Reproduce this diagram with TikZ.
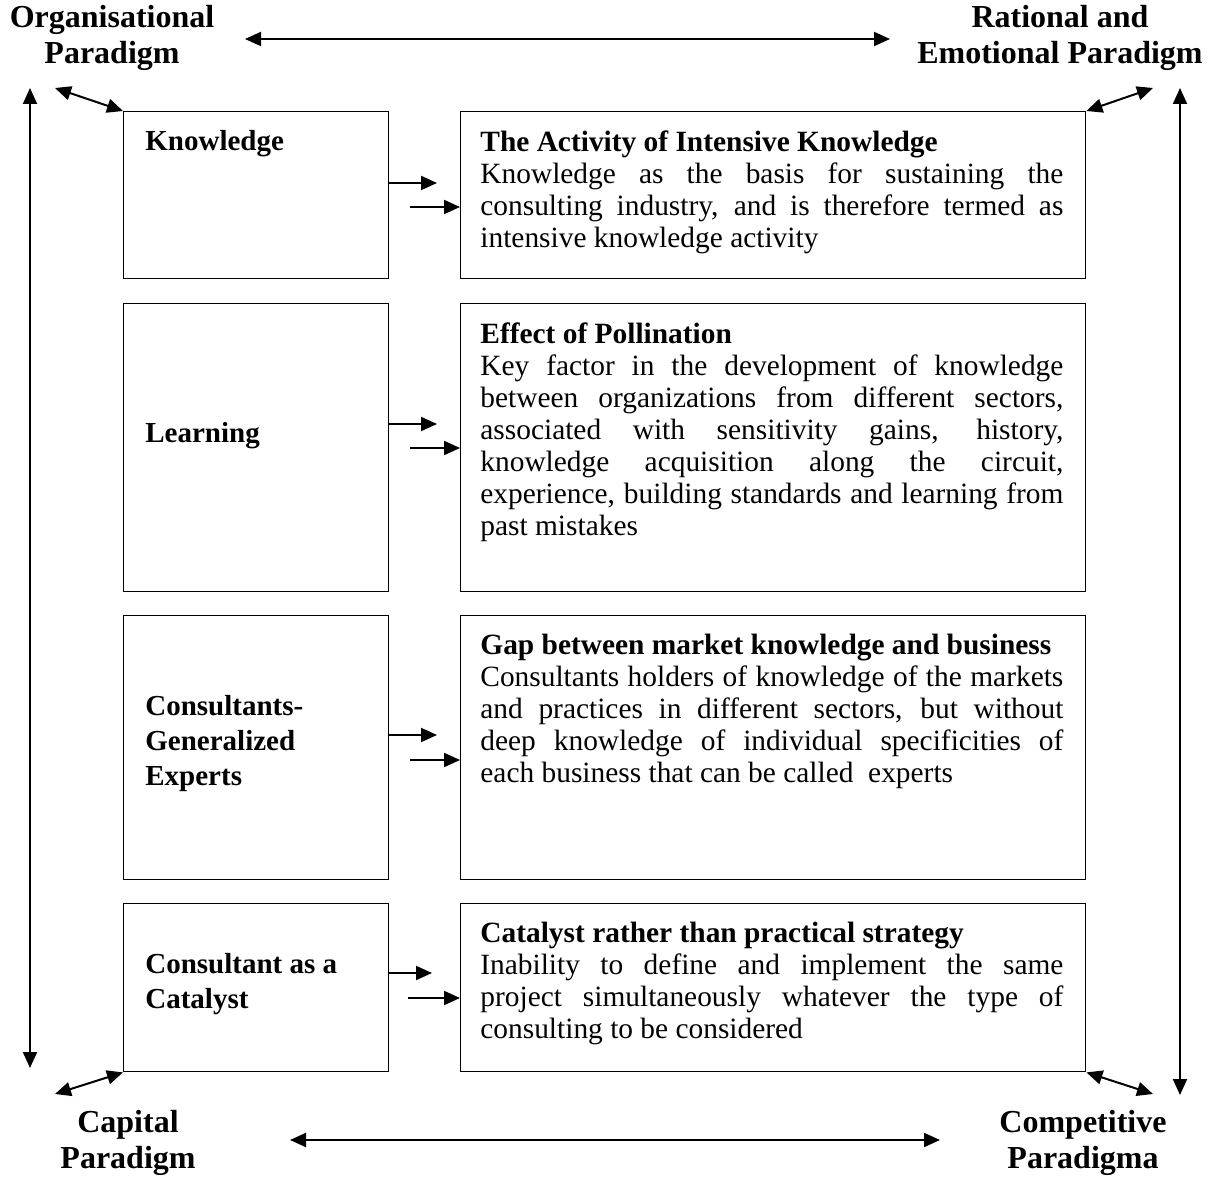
\documentclass[tikz,border=0pt]{standalone}
\usepackage{fontspec}
\setmainfont{Liberation Serif}
\usetikzlibrary{arrows.meta,positioning}

\tikzset{
  lbox/.style={draw, line width=0.7pt, anchor=north west, inner sep=0pt,
    minimum width=132.5pt},
  rbox/.style={draw, line width=0.7pt, anchor=north west, inner sep=0pt,
    minimum width=312.5pt},
  btxt/.style={anchor=north west, inner sep=0pt, text width=291.5pt, align=justify},
  ltxt/.style={anchor=west, inner sep=0pt, align=left, font=\fontsize{14.5}{17.5}\selectfont\bfseries},
  para/.style={align=center, inner sep=0pt, font=\fontsize{16}{18}\selectfont\bfseries},
  arr/.style={line width=1pt, -{Triangle[length=8pt,width=7pt]}},
  dbl/.style={line width=1pt, {Triangle[length=8pt,width=7pt]}-{Triangle[length=8pt,width=7pt]}}
}

\begin{document}
\begin{tikzpicture}[x=0.5pt, y=-0.5pt, font=\fontsize{14.7}{16}\selectfont]
  \useasboundingbox (0,0) rectangle (1212,1177);

  % paradigms in the corners
  \node[para] (org) at (112,38) {Organisational\\Paradigm};
  \node[para] (rat) at (1060,38) {Rational and\\Emotional Paradigm};
  \node[para] (cap) at (128,1143) {Capital\\Paradigm};
  \node[para] (comp) at (1083,1143) {Competitive\\Paradigma};

  % left column
  \node[lbox, minimum height=83.5pt] (k1) at (123,111) {};
  \node[lbox, minimum height=144pt] (k2) at (123,303) {};
  \node[lbox, minimum height=132pt] (k3) at (123,615) {};
  \node[lbox, minimum height=84pt] (k4) at (123,903) {};

  \node[ltxt, anchor=north west] (k1t) at (145,130) {Knowledge};
  \node[ltxt] (k2t) at (145,436) {Learning};
  \node[ltxt] (k3t) at (145,744) {Consultants-\\Generalized\\Experts};
  \node[ltxt] (k4t) at (145,984) {Consultant as a\\Catalyst};

  % right column
  \node[rbox, minimum height=83.5pt] (t1) at (460,111) {};
  \node[rbox, minimum height=144pt] (t2) at (460,303) {};
  \node[rbox, minimum height=132pt] (t3) at (460,615) {};
  \node[rbox, minimum height=84pt] (t4) at (460,903) {};

  \node[btxt] (t1t) at (480,130) {\textbf{The Activity of Intensive Knowledge}\\
    Knowledge as the basis for sustaining the\linebreak
    consulting industry, and is therefore termed as\linebreak
    intensive knowledge activity};
  \node[btxt] (t2t) at (480,322) {\textbf{Effect of Pollination}\\
    Key factor in the development of knowledge\linebreak
    between organizations from different sectors,\linebreak
    associated with sensitivity gains, history,\linebreak
    knowledge acquisition along the circuit,\linebreak
    experience, building standards and learning from\linebreak
    past mistakes};
  \node[btxt] (t3t) at (480,634) {\textbf{Gap between market knowledge and business}\\
    Consultants holders of knowledge of the markets\linebreak
    and practices in different sectors, but without\linebreak
    deep knowledge of individual specificities of\linebreak
    each business that can be called\ \ experts};
  \node[btxt] (t4t) at (480,922) {\textbf{Catalyst rather than practical strategy}\\
    Inability to define and implement the same\linebreak
    project simultaneously whatever the type of\linebreak
    consulting to be considered};

  % arrows between the columns
  \coordinate (a1) at (437,183);  \coordinate (b1) at (410,207);
  \coordinate (a2) at (437,424);  \coordinate (b2) at (410,448);
  \coordinate (a3) at (437,735);  \coordinate (b3) at (410,760);
  \coordinate (a4) at (432,973);  \coordinate (b4) at (408,998);
  \draw[arr] (k1.east |- a1) -- (a1);
  \draw[arr] (b1) -- (b1 -| t1.west);
  \draw[arr] (k2.east |- a2) -- (a2);
  \draw[arr] (b2) -- (b2 -| t2.west);
  \draw[arr] (k3.east |- a3) -- (a3);
  \draw[arr] (b3) -- (b3 -| t3.west);
  \draw[arr] (k4.east |- a4) -- (a4);
  \draw[arr] (b4) -- (b4 -| t4.west);

  % frame of arrows
  \coordinate (ht1) at (245,39);   \coordinate (ht2) at (890,39);
  \coordinate (hb1) at (290,1140); \coordinate (hb2) at (940,1140);
  \draw[dbl] (ht1) -- (ht2);
  \draw[dbl] (hb1) -- (hb2);
  \coordinate (lt) at (30,88);   \coordinate (lb) at (30,1068);
  \coordinate (rt) at (1180,88); \coordinate (rb) at (1180,1095);
  \draw[dbl] (lt) -- (lb);
  \draw[dbl] (rt) -- (rb);
  \coordinate (ctl) at (55,88);    \coordinate (ctr) at (1153,88);
  \coordinate (cbl) at (55,1094);  \coordinate (cbr) at (1153,1094);
  \draw[dbl] (ctl) -- (k1.north west);
  \draw[dbl] (t1.north east) -- (ctr);
  \draw[dbl] (cbl) -- (k4.south west);
  \draw[dbl] (t4.south east) -- (cbr);
\end{tikzpicture}
\end{document}
